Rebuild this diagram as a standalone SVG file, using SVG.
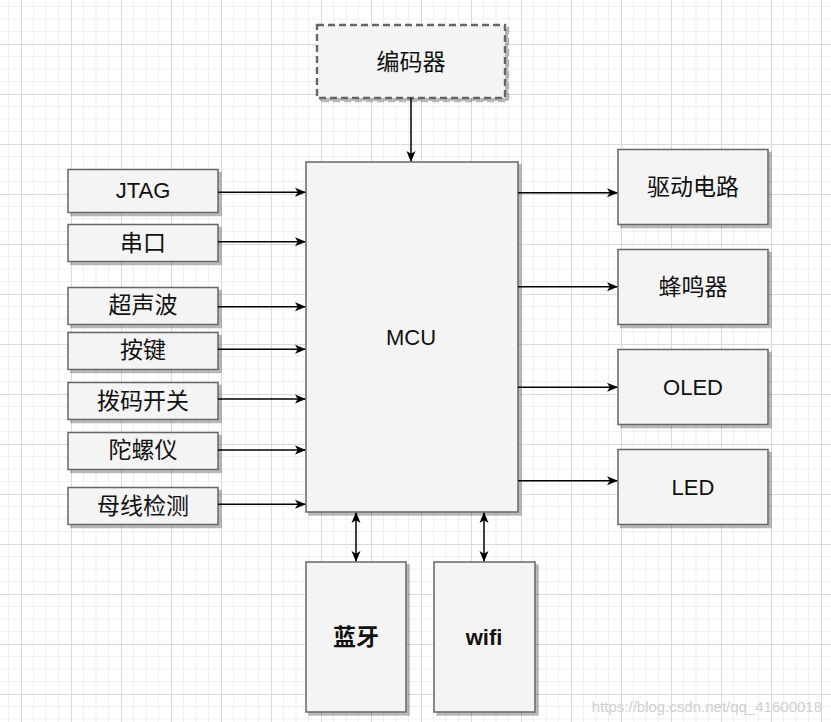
<svg xmlns="http://www.w3.org/2000/svg" width="831" height="722" viewBox="0 0 831 722">
<defs>
<pattern id="grid" patternUnits="userSpaceOnUse" x="21" y="44" width="50" height="50">
<path d="M12.5 0V50M25 0V50M37.5 0V50M0 12.5H50M0 25H50M0 37.5H50" stroke="#efefef" stroke-width="1" fill="none"/>
<path d="M0.5 0V50M0 0.5H50" stroke="#dadada" stroke-width="1" fill="none"/>
</pattern>
<filter id="sh" x="-10%" y="-10%" width="130%" height="130%">
<feDropShadow dx="3" dy="3" stdDeviation="0.6" flood-color="#000" flood-opacity="0.28"/>
</filter>
<marker id="ah" viewBox="0 0 11 10" refX="10" refY="5" markerWidth="11" markerHeight="10" markerUnits="userSpaceOnUse" orient="auto-start-reverse">
<path d="M0 0.5L11 5L0 9.5L2.8 5Z" fill="#000"/>
</marker>
<style>
.box{fill:#f4f4f4;stroke:#666;stroke-width:1.5;filter:url(#sh)}
.dash{stroke-dasharray:7 4;stroke-width:2.4}
.t{font-family:"Liberation Sans","Noto Sans CJK SC",sans-serif;font-size:22px;fill:#111;text-anchor:middle;dominant-baseline:central}
.z{font-size:23px}
.b{font-weight:bold}
.c{stroke:#000;stroke-width:1.5;fill:none;marker-end:url(#ah)}
.d{marker-start:url(#ah)}
</style>
</defs>
<rect width="831" height="722" fill="#fff"/>
<rect width="831" height="722" fill="url(#grid)"/>

<g id="encoder"><rect class="box dash" x="317" y="25" width="188" height="73"/><text class="t z" x="411" y="62">编码器</text></g>
<g id="mcu"><rect class="box" x="306" y="162" width="212" height="350"/><text class="t" x="411" y="337">MCU</text></g>

<g id="jtag"><rect class="box" x="68" y="169.5" width="150" height="43"/><text class="t" x="143" y="190">JTAG</text></g>
<g id="uart"><rect class="box" x="68" y="224.5" width="150" height="37"/><text class="t z" x="143" y="243">串口</text></g>
<g id="ultrasonic"><rect class="box" x="68" y="287.5" width="150" height="37"/><text class="t z" x="143" y="305">超声波</text></g>
<g id="keys"><rect class="box" x="68" y="332.5" width="150" height="37"/><text class="t z" x="143" y="350">按键</text></g>
<g id="dip"><rect class="box" x="68" y="382.5" width="150" height="37"/><text class="t z" x="143" y="401">拨码开关</text></g>
<g id="gyro"><rect class="box" x="68" y="432.5" width="150" height="37"/><text class="t z" x="143" y="450">陀螺仪</text></g>
<g id="bus"><rect class="box" x="68" y="487.5" width="150" height="37"/><text class="t z" x="143" y="506">母线检测</text></g>

<g id="driver"><rect class="box" x="618" y="149.5" width="150" height="75"/><text class="t z" x="693" y="187">驱动电路</text></g>
<g id="buzzer"><rect class="box" x="618" y="249.5" width="150" height="75"/><text class="t z" x="693" y="287">蜂鸣器</text></g>
<g id="oled"><rect class="box" x="618" y="349.5" width="150" height="75"/><text class="t" x="693" y="387">OLED</text></g>
<g id="led"><rect class="box" x="618" y="449.5" width="150" height="75"/><text class="t" x="693" y="487">LED</text></g>

<g id="bluetooth"><rect class="box" x="306" y="562" width="100" height="150"/><text class="t z b" x="356" y="637">蓝牙</text></g>
<g id="wifi"><rect class="box" x="434" y="562" width="101" height="150"/><text class="t b" x="484" y="637">wifi</text></g>

<g id="connectors">
<path class="c" d="M411 98V161"/>
<path class="c" d="M218 192.3H305"/>
<path class="c" d="M218 241.7H305"/>
<path class="c" d="M218 306.7H305"/>
<path class="c" d="M218 349.3H305"/>
<path class="c" d="M218 399H305"/>
<path class="c" d="M218 450H305"/>
<path class="c" d="M218 504.3H305"/>
<path class="c" d="M518 192.7H617"/>
<path class="c" d="M518 286.7H617"/>
<path class="c" d="M518 387.3H617"/>
<path class="c" d="M518 480.7H617"/>
<path class="c d" d="M356 513V561"/>
<path class="c d" d="M484 513V561"/>
</g>
<text x="822" y="706" font-family="Liberation Sans,Arial,sans-serif" font-size="15" fill="#cfcfcf" text-anchor="end" dominant-baseline="central">https://blog.csdn.net/qq_41600018</text>
</svg>
